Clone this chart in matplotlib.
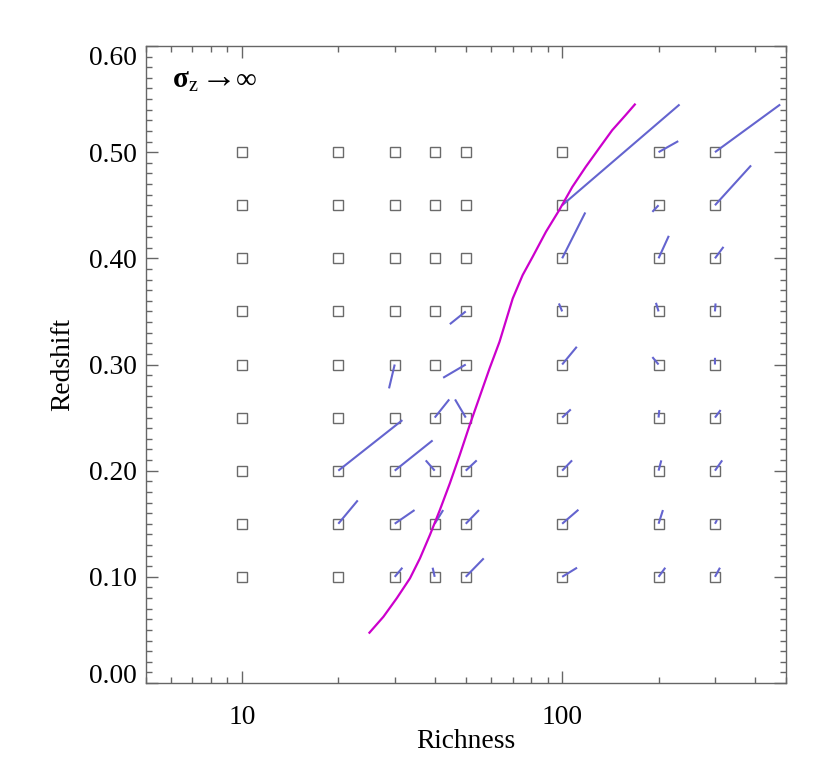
import matplotlib
matplotlib.use("Agg")
import matplotlib.pyplot as plt
import numpy as np
from matplotlib.ticker import FixedLocator, MultipleLocator, LogLocator, NullFormatter

plt.rcParams['font.family'] = ['Liberation Serif', 'DejaVu Serif']
plt.rcParams['mathtext.fontset'] = 'custom'
plt.rcParams['mathtext.rm'] = 'Liberation Serif'
plt.rcParams['mathtext.it'] = 'Liberation Serif:italic'
plt.rcParams['mathtext.bf'] = 'Liberation Serif:bold'

# grid of (richness, redshift) bins
richness_grid = [10, 20, 30, 40, 50, 100, 200, 300]
redshift_grid = [0.10, 0.15, 0.20, 0.25, 0.30, 0.35, 0.40, 0.45, 0.50]

# displacement vectors: start (richness, z) -> end (richness, z)
vec_lam0 = [30, 50, 40, 50, 20, 30, 40, 50, 20, 30, 40, 50, 30, 40, 50, 50,
            100, 200, 300, 200, 300, 100, 200, 300, 100, 200, 300, 100, 200, 300,
            100, 200, 300, 100, 200, 300, 100, 200, 300, 100, 200, 300]
vec_z0 = [0.30, 0.30, 0.25, 0.25, 0.20, 0.20, 0.20, 0.20, 0.15, 0.15, 0.15, 0.15, 0.10, 0.10, 0.10, 0.35,
          0.45, 0.50, 0.50, 0.45, 0.45, 0.40, 0.40, 0.40, 0.35, 0.35, 0.35, 0.30, 0.30, 0.30,
          0.25, 0.25, 0.25, 0.20, 0.20, 0.20, 0.15, 0.15, 0.15, 0.10, 0.10, 0.10]
vec_lam1 = [28.8, 42.5, 44.4, 46.3, 31.7, 39.4, 37.5, 54.1, 23.0, 34.6, 42.5, 55.0, 31.7, 39.4, 56.9, 44.6,
            232.6, 230.4, 479.6, 191.3, 389.0, 118.1, 215.3, 319.0, 97.7, 196.3, 301.3, 111.1, 191.3, 300.1,
            106.4, 201.1, 312.4, 107.4, 204.0, 316.0, 112.4, 206.4, 304.4, 111.3, 209.9, 311.0]
vec_z1 = [0.2775, 0.2875, 0.2671, 0.2671, 0.2476, 0.2285, 0.2097, 0.2097, 0.1720, 0.1629, 0.1629, 0.1629, 0.1086, 0.1086, 0.1174, 0.338,
          0.5449, 0.5104, 0.5449, 0.4438, 0.4875, 0.4432, 0.4212, 0.4108, 0.3575, 0.3581, 0.3575, 0.3167, 0.3070, 0.3063,
          0.2577, 0.2571, 0.2571, 0.2097, 0.2097, 0.2097, 0.1632, 0.1629, 0.1535, 0.1086, 0.1086, 0.1086]

# magenta curve
curve_richness = [25.02, 27.66, 30.44, 33.48, 35.97, 38.64, 41.50, 44.59, 47.88, 51.43,
                  55.25, 59.34, 63.74, 70.09, 75.27, 80.87, 89.0, 97.9, 107.6, 118.5,
                  130.3, 143.3, 157.7, 168.6]
curve_z = [0.0474, 0.0624, 0.0798, 0.0986, 0.1174, 0.1394, 0.1629, 0.1880, 0.2147, 0.2429,
           0.2696, 0.2963, 0.3214, 0.3622, 0.3842, 0.4014, 0.4250, 0.4454, 0.4673, 0.4862,
           0.5035, 0.5207, 0.5348, 0.5449]

ytick_vals = [0.0, 0.1, 0.2, 0.3, 0.4, 0.5, 0.6]
xtick_vals = [10, 100]
xtick_labels = ["10", "100"]

fig = plt.figure(figsize=(8.3, 7.75), dpi=100)
ax = fig.add_axes([145.5 / 830, 1 - 683 / 775, (786 - 145.5) / 830, (683 - 46) / 775])

gx, gy = np.meshgrid(richness_grid, redshift_grid)
ax.plot(gx.ravel(), gy.ravel(), linestyle='none', marker='s', markersize=7.2,
        markerfacecolor='none', markeredgecolor='#6a6a6a', markeredgewidth=1.0, zorder=2)

for x0, y0, x1, y1 in zip(vec_lam0, vec_z0, vec_lam1, vec_z1):
    ax.plot([x0, x1], [y0, y1], color='#6464cf', linewidth=1.5, solid_capstyle='butt', zorder=3)

ax.plot(curve_richness, curve_z, color='#cc00cc', linewidth=1.6, zorder=4)

ax.set_xscale('log')
ax.set_xlim(5, 500)
ax.set_ylim(0, 0.6)

ax.xaxis.set_major_locator(FixedLocator(xtick_vals))
ax.set_xticklabels(xtick_labels)
ax.xaxis.set_minor_locator(LogLocator(base=10, subs=np.arange(2, 10)))
ax.xaxis.set_minor_formatter(NullFormatter())
ax.set_yticks(ytick_vals)
ax.set_yticklabels(["%.2f" % v for v in ytick_vals])
ax.yaxis.set_minor_locator(MultipleLocator(0.01))

for sp in ax.spines.values():
    sp.set_color('#666666')
    sp.set_linewidth(1.0)

ax.tick_params(which='both', direction='in', top=True, right=True, color='#666666',
               labelsize=19.8, labelcolor='black')
ax.tick_params(which='major', length=8.8, width=1.0)
ax.tick_params(which='minor', length=4.5, width=1.0)
ax.tick_params(axis='x', which='major', pad=16)
ax.tick_params(axis='y', which='major', pad=6)

ylabels = ax.get_yticklabels()
ylabels[0].set_va('baseline')
ylabels[-1].set_va('top')

ax.set_xlabel('Richness', fontsize=19.8)
ax.xaxis.label.set_va('center')
ax.xaxis.set_label_coords(0.5, -0.0925)
ax.set_ylabel('Redshift', fontsize=19.8)
ax.yaxis.label.set_va('center')
ax.yaxis.set_label_coords(-0.13, 0.5)

ax.text(0.0414, 0.934, r'$\mathbf{\sigma}_{\mathrm{z}}$', transform=ax.transAxes,
        fontsize=21, va='baseline', ha='left')
ax.text(0.0855, 0.934, '\u2192', transform=ax.transAxes,
        fontsize=26, va='baseline', ha='left')
ax.text(0.1405, 0.934, '\u221e', transform=ax.transAxes,
        fontsize=21, va='baseline', ha='left')

fig.savefig('out.png', dpi=100)
